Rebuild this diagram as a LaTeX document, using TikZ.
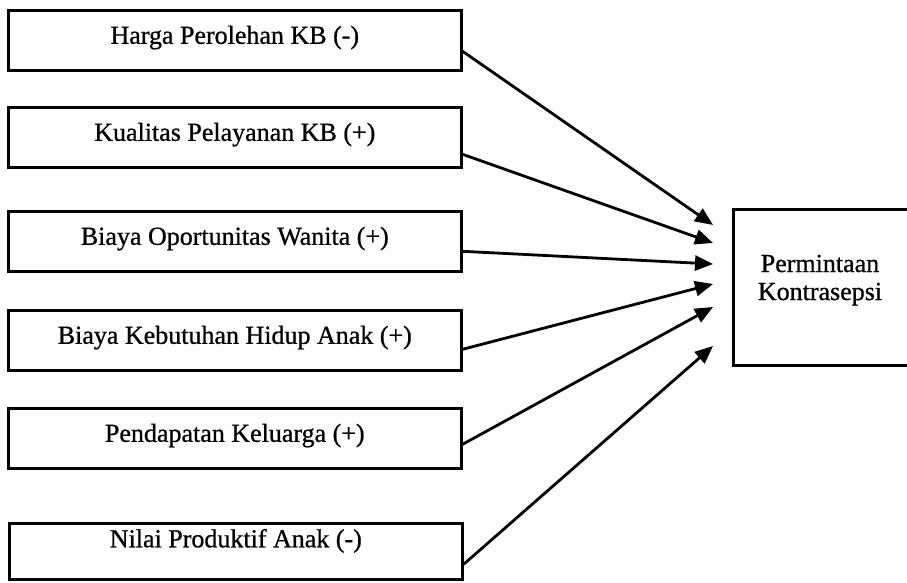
\documentclass[tikz,border=0pt]{standalone}
\usepackage{fontspec}
\setmainfont{Liberation Serif}
\newfontfamily\scanfont{Liberation Serif}[FakeBold=0.8]
\usetikzlibrary{arrows.meta}
\begin{document}
\begin{tikzpicture}[x=1pt,y=-1pt,
  factorbox/.style={draw, line width=2.6pt, minimum width=453pt, minimum height=60pt,
    inner sep=0pt, anchor=north west, text height=18pt, text depth=11pt,
    font=\scanfont\fontsize{26}{30}\selectfont},
  targetbox/.style={draw, line width=2.6pt, minimum width=178pt, minimum height=156pt,
    inner sep=0pt, anchor=north west},
  targettext/.style={align=center, inner sep=0pt,
    font=\scanfont\fontsize{26}{28}\selectfont},
  link/.style={line width=2.8pt, -{Triangle[length=18pt,width=15pt]}}]
\useasboundingbox (0,0) rectangle (907,582);
\fill[white] (0,0) rectangle (907,582);
\node[factorbox] (b1) at (7,9)   {Harga Perolehan KB (-)};
\node[factorbox] (b2) at (7,106) {Kualitas Pelayanan KB (+)};
\node[factorbox] (b3) at (7,210) {Biaya Oportunitas Wanita (+)};
\node[factorbox] (b4) at (7,309) {Biaya Kebutuhan Hidup Anak (+)};
\node[factorbox] (b5) at (7,407) {Pendapatan Keluarga (+)};
\node[factorbox, minimum height=56pt, text height=12pt, text depth=20pt] (b6) at (8,522) {Nilai Produktif Anak (-)};
\node[targetbox] (k) at (732,208) {};
\node[targettext, anchor=base] (kt) at (820,300) {Permintaan\\Kontrasepsi};
\coordinate (t1) at (713,225);
\coordinate (t2) at (713,243);
\coordinate (t3) at (713,264);
\coordinate (t4) at (713,284);
\coordinate (t5) at (713,307);
\coordinate (t6) at (713,346);
\draw[link] ([yshift=-11pt]b1.east) -- (t1);
\draw[link] ([yshift=-17pt]b2.east) -- (t2);
\draw[link] ([yshift=-10pt]b3.east) -- (t3);
\draw[link] ([yshift=-9pt]b4.east) -- (t4);
\draw[link] ([yshift=-6pt]b5.east) -- (t5);
\draw[link] ([yshift=-13pt]b6.east) -- (t6);
\end{tikzpicture}
\end{document}
